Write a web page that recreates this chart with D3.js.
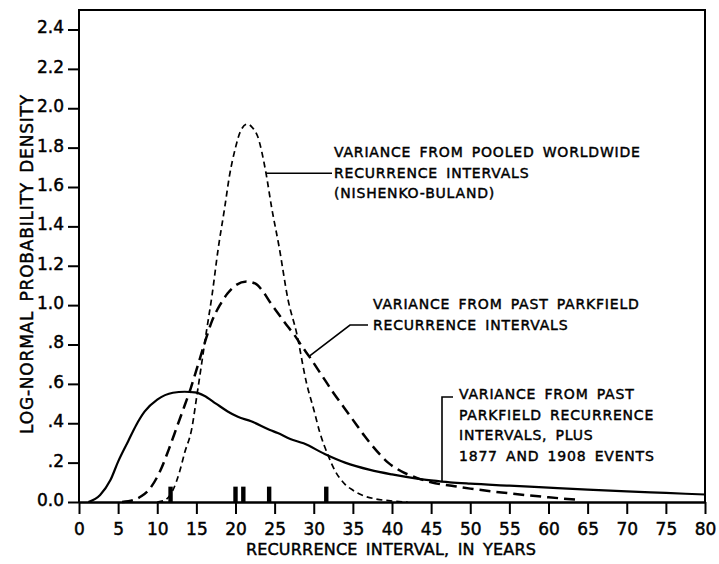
<!DOCTYPE html>
<html>

<head>
  <meta charset="utf-8">
  <title>Log-normal recurrence densities</title>
  <style type="text/css">
    body { margin: 0; background: #fff; }
    svg { display: block; }
    text { font-family: "DejaVu Sans", sans-serif; fill: #000; stroke: #000; stroke-width: 0.45px; }
    .axis text { font-size: 17px; }
    .axis .domain, .axis .tick line { stroke: #000; stroke-width: 2px; }
    .axis .domain { stroke-width: 2.5px; }
    .note { font-size: 14px; letter-spacing: 0.8px; word-spacing: 3px; }
    .ytitle { font-size: 17px; letter-spacing: 0.8px; word-spacing: 3px; }
    .xtitle { font-size: 16px; letter-spacing: 0.2px; word-spacing: 3px; }
  </style>
  <script src="https://cdn.jsdelivr.net/npm/d3@7/dist/d3.min.js"></script>
</head>

<body>
  <script>
    // curve readings: [years, density]
    var worldwide = [[10, 0], [11, 0.01], [12, 0.06], [12.9, 0.16], [13.5, 0.25], [14.4, 0.37], [15.1, 0.55],
      [16.3, 0.87], [17, 1.05], [17.8, 1.29], [18.6, 1.49], [19.2, 1.65], [20, 1.8], [20.6, 1.88], [21.5, 1.92],
      [22.2, 1.9], [22.8, 1.86], [23.9, 1.67], [24.6, 1.5], [25.6, 1.29], [26.7, 1.03], [27.8, 0.86], [29.1, 0.6],
      [30, 0.47], [30.8, 0.35], [31.8, 0.24], [32.7, 0.16], [34, 0.09], [35, 0.06], [36.5, 0.03], [38, 0.015],
      [40, 0.005], [42, 0]];
    var parkfield = [[5.5, 0], [7, 0.01], [8, 0.03], [9, 0.065], [10.4, 0.16], [11.5, 0.27], [12.5, 0.38],
      [13.5, 0.49], [14.3, 0.58], [15, 0.67], [16, 0.8], [17, 0.92], [18, 1.0], [19, 1.06], [20, 1.1],
      [21.4, 1.12], [22.5, 1.11], [23.5, 1.07], [24.5, 1.01], [25.5, 0.955], [26.5, 0.9], [27.5, 0.85],
      [28.5, 0.79], [29.5, 0.735], [30.5, 0.675], [31.5, 0.615], [32.5, 0.555], [33.5, 0.5], [34.5, 0.445],
      [35.5, 0.39], [36.5, 0.335], [37.5, 0.285], [38.5, 0.24], [39.5, 0.2], [41, 0.16], [43, 0.125],
      [45, 0.1], [48, 0.08], [50, 0.068], [55, 0.044], [60, 0.024], [63.5, 0.012]];
    var withEvents = [[1.2, 0], [2.7, 0.036], [4, 0.11], [5, 0.205], [6.3, 0.31], [7.3, 0.39], [8.4, 0.46],
      [10, 0.52], [12, 0.555], [13.5, 0.56], [14.8, 0.557], [16, 0.54], [17.5, 0.5], [19, 0.46], [20.3, 0.433],
      [22, 0.41], [24.4, 0.366], [25.4, 0.35], [27, 0.32], [28.7, 0.298], [31.4, 0.244], [34, 0.2], [37.2, 0.163],
      [40, 0.14], [43, 0.12], [45, 0.11], [47.4, 0.1], [50, 0.093], [55, 0.083], [60, 0.073], [65, 0.063],
      [70, 0.054], [75, 0.046], [80, 0.038]];
    // observed Parkfield recurrence intervals (rug marks)
    var observed = [11.7, 20, 21, 24.3, 31.6];

    var xTicks = d3.range(0, 81, 5);
    var yTicks = [0, 0.2, 0.4, 0.6, 0.8, 1.0, 1.2, 1.4, 1.6, 1.8, 2.0, 2.2, 2.4];

    var notes = [
      { lines: ['VARIANCE FROM POOLED WORLDWIDE', 'RECURRENCE INTERVALS', '(NISHENKO-BULAND)'] },
      { lines: ['VARIANCE FROM PAST PARKFIELD', 'RECURRENCE INTERVALS'] },
      { lines: ['VARIANCE FROM PAST', 'PARKFIELD RECURRENCE', 'INTERVALS, PLUS', '1877 AND 1908 EVENTS'] }
    ];

    var W = 719, H = 564;
    var x = d3.scaleLinear().domain([0, 80]).range([79, 705]);
    var y = d3.scaleLinear().domain([0, 2.4]).range([502, 29.5]);

    var svg = d3.select('body').append('svg').attr('width', W).attr('height', H);

    // frame (left, top, right)
    svg.append('path')
      .attr('d', 'M79,502V10H705V502')
      .attr('fill', 'none').attr('stroke', '#000').attr('stroke-width', 2);

    var yAxis = svg.append('g').classed('axis', true)
      .attr('transform', 'translate(79,0)')
      .call(d3.axisLeft(y).tickValues(yTicks).tickSize(11).tickSizeOuter(0)
        .tickFormat(d => d === 0 ? '0.0' : d < 1 ? d3.format('.1f')(d).slice(1) : d3.format('.1f')(d)));
    yAxis.select('.domain').remove();
    yAxis.selectAll('.tick text').attr('x', -15).attr('dy', '0.2em');

    var xAxis = svg.append('g').classed('axis', true)
      .attr('transform', 'translate(0,502)')
      .call(d3.axisBottom(x).tickValues(xTicks).tickSize(12).tickSizeOuter(0));
    xAxis.selectAll('.tick text').attr('y', 33).attr('dy', 0);

    // axis titles
    svg.append('text').classed('ytitle', true)
      .attr('text-anchor', 'middle')
      .attr('transform', 'translate(33,264) rotate(-90)')
      .text('LOG-NORMAL PROBABILITY DENSITY');
    svg.append('text').classed('xtitle', true)
      .attr('text-anchor', 'middle')
      .attr('x', 391).attr('y', 555)
      .text('RECURRENCE INTERVAL, IN YEARS');

    var line = d3.line().x(d => x(d[0])).y(d => y(d[1])).curve(d3.curveMonotoneX);

    svg.append('path').datum(withEvents)
      .attr('d', line).attr('fill', 'none').attr('stroke', '#000').attr('stroke-width', 2.2);
    svg.append('path').datum(parkfield)
      .attr('d', line).attr('fill', 'none').attr('stroke', '#000').attr('stroke-width', 2.5)
      .attr('stroke-dasharray', '11,6');
    svg.append('path').datum(worldwide)
      .attr('d', line).attr('fill', 'none').attr('stroke', '#000').attr('stroke-width', 1.7)
      .attr('stroke-dasharray', '6,4');

    // rug of observed intervals
    svg.selectAll('.rug').data(observed).enter().append('rect').classed('rug', true)
      .attr('x', d => x(d) - 2.2).attr('width', 4.4)
      .attr('y', y(0.078)).attr('height', y(0) - y(0.078))
      .attr('fill', '#000');

    // annotations with leaders
    var noteLayout = [
      { x: 334, y: 157, leader: [[x(23.9), y(1.67)], [332, y(1.67)]] },
      { x: 373, y: 309, leader: [[x(29.4), y(0.74)], [350, 325], [368, 325]] },
      { x: 459, y: 399, leader: [[453, 397], [442, 397], [442, y(0.104)]] }
    ];
    notes.forEach(function (n, i) {
      var L = noteLayout[i];
      var t = svg.append('text').classed('note', true).attr('x', L.x).attr('y', L.y);
      t.selectAll('tspan').data(n.lines).enter().append('tspan')
        .attr('x', L.x).attr('dy', (d, j) => j ? 20.5 : 0).text(d => d);
      svg.append('path').attr('d', d3.line()(L.leader))
        .attr('fill', 'none').attr('stroke', '#000').attr('stroke-width', 1.6);
    });
  </script>
</body>

</html>
